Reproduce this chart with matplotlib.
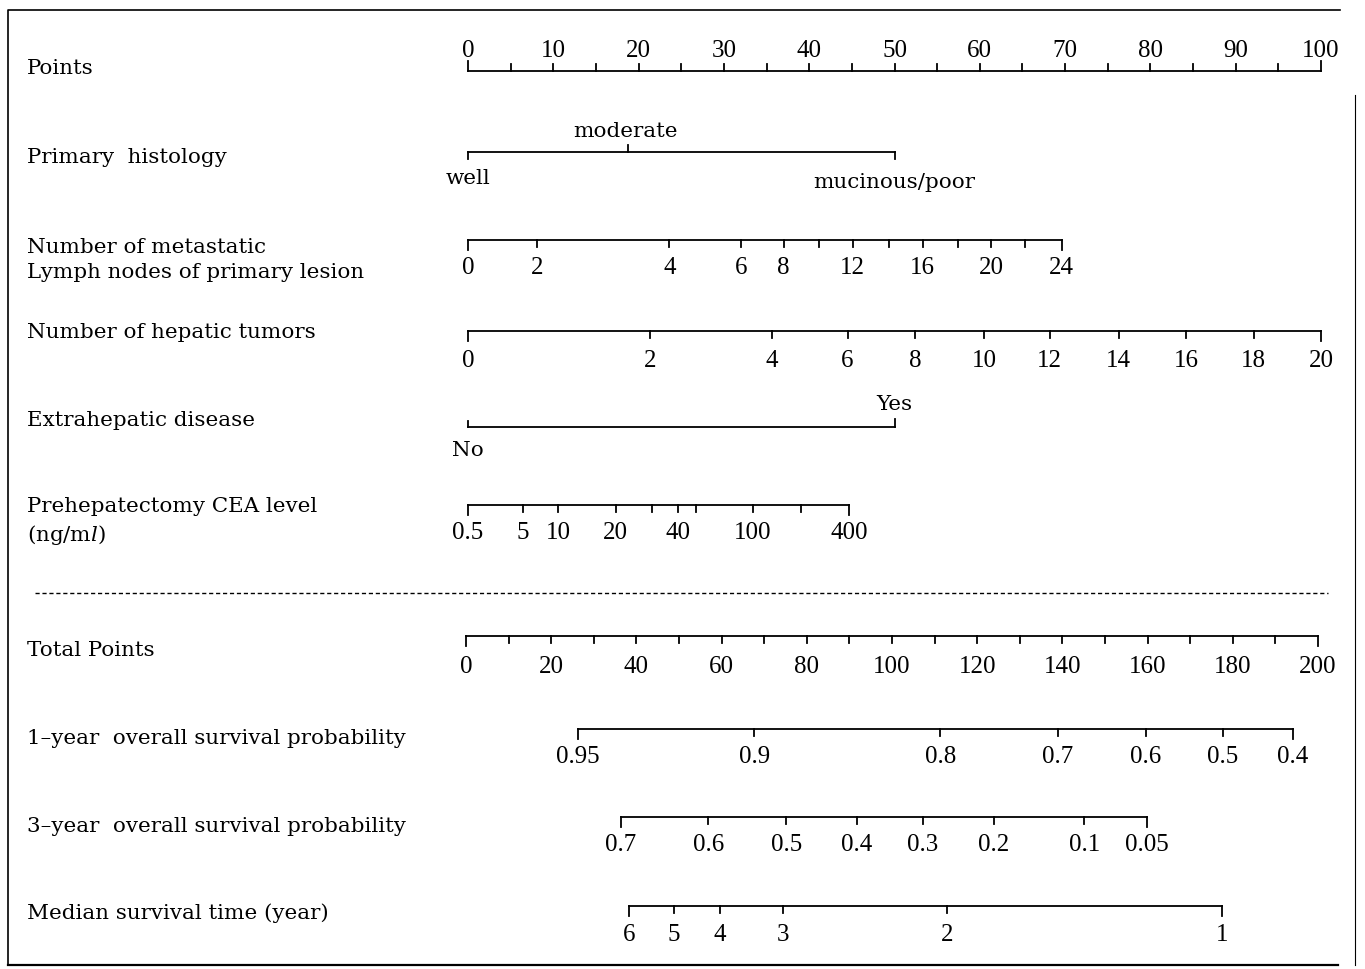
import numpy as np
import matplotlib.pyplot as plt

plt.rcParams['font.family'] = ['DejaVu Serif']
plt.rcParams['mathtext.fontset'] = 'dejavuserif'

# Points scale (0-100)
points_vals = [0, 5, 10, 15, 20, 25, 30, 35, 40, 45, 50, 55, 60, 65, 70, 75, 80, 85, 90, 95, 100]
points_labels = ['0', '', '10', '', '20', '', '30', '', '40', '', '50', '', '60', '', '70', '', '80', '', '90', '', '100']

# Primary histology
hist_labels = ['well', 'moderate', 'mucinous/poor']
hist_pts = [0, 18.8, 50]

# Number of metastatic lymph nodes
ln_labels = ['0', '2', '4', '6', '8', '', '12', '', '16', '', '20', '', '24']
ln_pts = [0, 8.1, 23.6, 32.0, 37.0, 41.1, 45.1, 49.3, 53.3, 57.4, 61.3, 65.3, 69.6]

# Number of hepatic tumors
hep_labels = ['0', '2', '4', '6', '8', '10', '12', '14', '16', '18', '20']
hep_pts = [0, 21.3, 35.6, 44.5, 52.4, 60.5, 68.2, 76.3, 84.2, 92.1, 100]

# Extrahepatic disease
ext_labels = ['No', 'Yes']
ext_pts = [0, 50]

# CEA level
cea_labels = ['0.5', '5', '10', '20', '', '40', '', '100', '', '400']
cea_pts = [0, 6.4, 10.6, 17.3, 21.6, 24.6, 26.7, 33.4, 39.0, 44.7]

# Total points (0-200)
tot_vals = [0, 10, 20, 30, 40, 50, 60, 70, 80, 90, 100, 110, 120, 130, 140, 150, 160, 170, 180, 190, 200]
tot_labels = ['0', '', '20', '', '40', '', '60', '', '80', '', '100', '', '120', '', '140', '', '160', '', '180', '', '200']

# 1-year overall survival
os1_labels = ['0.95', '0.9', '0.8', '0.7', '0.6', '0.5', '0.4']
os1_tp = [26.3, 67.7, 111.3, 138.9, 159.6, 177.6, 194.1]

# 3-year overall survival
os3_labels = ['0.7', '0.6', '0.5', '0.4', '0.3', '0.2', '0.1', '0.05']
os3_tp = [36.4, 56.9, 75.2, 91.8, 107.2, 123.9, 145.1, 159.9]

# Median survival time
med_labels = ['6', '5', '4', '3', '2', '1']
med_tp = [38.3, 48.8, 59.6, 74.5, 112.9, 177.4]

row_names = ['Points', 'Primary  histology', 'Number of metastatic\nLymph nodes of primary lesion',
             'Number of hepatic tumors', 'Extrahepatic disease', 'Prehepatectomy CEA level\n(ng/m$\\it{l}$)',
             'Total Points', '1\u2013year  overall survival probability',
             '3\u2013year  overall survival probability', 'Median survival time (year)']
row_y = [68, 157, 260, 333, 420, 522, 650, 739, 826, 913]


def px(p):
    return 468 + p * 8.53


def px_tot(t):
    return 466 + t * 4.26


fig = plt.figure(figsize=(13.65, 9.69), dpi=100)
ax = fig.add_axes([0, 0, 1, 1])
ax.set_xlim(0, 1365)
ax.set_ylim(969, 0)
ax.axis('off')

fs = 15.4
num_font = dict(family='Liberation Serif', fontsize=18)
lw = 1.3


def scale(xs, labels, y, up=False, tall_ends=True, off=24):
    ax.plot([xs[0], xs[-1]], [y, y], color='black', lw=lw)
    s = -1 if up else 1
    for i, (x, lab) in enumerate(zip(xs, labels)):
        L = 10 if (tall_ends and i in (0, len(xs) - 1)) else 7
        ax.plot([x, x], [y, y + s * L], color='black', lw=lw)
        if lab:
            ax.text(x, y + s * off, lab, ha='center', va='center', **num_font)


# row labels
for name, yy in zip(row_names, row_y):
    ax.text(27, yy, name, ha='left', va='center', fontsize=fs, linespacing=1.4)

# Points
scale([px(p) for p in points_vals], points_labels, 71, up=True, off=20)

# Primary histology
hx = [px(p) for p in hist_pts]
ax.plot([hx[0], hx[-1]], [152, 152], color='black', lw=lw)
for x in (hx[0], hx[-1]):
    ax.plot([x, x], [152, 159], color='black', lw=lw)
ax.plot([hx[1], hx[1]], [152, 145], color='black', lw=lw)
ax.text(hx[0], 178, hist_labels[0], ha='center', va='center', fontsize=fs)
ax.text(hx[1] - 3, 131, hist_labels[1], ha='center', va='center', fontsize=fs)
ax.text(hx[2], 182, hist_labels[2], ha='center', va='center', fontsize=fs)

# lymph nodes
scale([px(p) for p in ln_pts], ln_labels, 240, off=28)

# hepatic tumors
scale([px(p) for p in hep_pts], hep_labels, 331, off=30)

# extrahepatic disease
ex = [px(p) for p in ext_pts]
ax.plot([ex[0], ex[1]], [427, 427], color='black', lw=lw)
ax.plot([ex[0], ex[0]], [427, 421], color='black', lw=lw)
ax.plot([ex[1], ex[1]], [427, 419], color='black', lw=lw)
ax.text(ex[0], 450, ext_labels[0], ha='center', va='center', fontsize=fs)
ax.text(ex[1], 405, ext_labels[1], ha='center', va='center', fontsize=fs)

# CEA
scale([px(p) for p in cea_pts], cea_labels, 505, off=28)

# dashed separator
ax.plot([35, 1328], [593, 593], color='black', lw=1.0, ls=(0, (3, 2)))

# total points
scale([px_tot(t) for t in tot_vals], tot_labels, 636, off=31)

# survival scales
scale([px_tot(t) for t in os1_tp], os1_labels, 729, off=28)
scale([px_tot(t) for t in os3_tp], os3_labels, 817, off=28)
scale([px_tot(t) for t in med_tp], med_labels, 906, off=29)

# frame
ax.plot([8, 8, 1340], [965, 10, 10], color='black', lw=1.2)
ax.plot([8, 1338], [965, 965], color='black', lw=1.6)
ax.plot([1355, 1355], [95, 965], color='black', lw=0.8)

fig.savefig('out.png', dpi=100)
